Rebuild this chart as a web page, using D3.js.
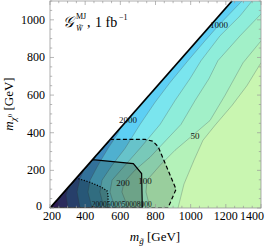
<!DOCTYPE html>
<html>
<head>
<meta charset="utf-8">
<script src="https://cdn.jsdelivr.net/npm/d3@7"></script>
<style>
  body { margin: 0; background: #fff; }
  text { font-family: "Liberation Serif", "DejaVu Serif", serif; }
</style>
</head>
<body>
<svg id="chart" width="266" height="247"></svg>
<script>
// contour levels (events) and the lines, [m_gluino, m_chi]
const levels = [50, 100, 200, 500, 1000, 2000, 5000, 10000, 20000];
const line50 = [[928,0],[962,127],[1019,254],[1070,360],[1138,439],[1235,545],[1320,650],[1400,772]];
const line100 = [[769,0],[746,85],[752,148],[826,227],[911,307],[1025,397],[1110,465],[1195,598],[1298,772],[1400,888]];
const line200 = [[644,0],[609,85],[621,137],[683,201],[769,270],[860,360],[945,444],[1025,571],[1104,687],[1155,783],[1281,915],[1400,1031]];
const line500 = [[570,0],[541,85],[553,148],[627,227],[712,317],[826,444],[911,571],[996,687],[1059,783],[1167,915],[1281,1021],[1349,1100]];
const line1000 = [[507,0],[484,85],[496,148],[553,227],[627,317],[712,444],[797,561],[882,666],[985,783],[1081,888],[1161,973],[1292,1100]];
const line2000 = [[439,0],[416,85],[428,148],[473,227],[530,317],[587,397],[627,487]];
const line5000 = [[371,0],[354,85],[371,159],[416,243],[467,307],[484,338]];
const line10000 = [[302,0],[291,69],[314,137],[359,201],[371,222]];
const line20000 = [[245,0],[245,53],[274,95],[291,116]];
const contourLines = [line50, line100, line200, line500, line1000, line2000, line5000, line10000, line20000];

// kinematic edge
const edge = [[200,0],[1235,1100]];

// excluded regions
const regionDashed = [[200,0],[543,365],[740,365],[785,355],[815,326],[917,100],[871,0]];
const regionSolid = [[200,0],[442,257],[674,236],[721,183],[725,0]];
const regionDotted = [[200,0],[350,159],[427,137],[490,112],[524,92],[530,70],[530,0]];

// contour labels
const labelText = ["50", "100", "200", "1000", "2000"];
const labelPos = [[1025,381],[740,143],[615,132],[1161,973],[644,465]];
const bottomLabelText = ["2000", "5000", "5000", "8000"];
const bottomLabelPos = [[480,19],[565,19],[651,19],[736,19]];

const xTicks = [200, 400, 600, 800, 1000, 1200, 1400];
const yTicks = [0, 200, 400, 600, 800, 1000];

const baseColor = "#c9f6b1";
const bandColors = ["#b4f2b9", "#a2f0c8", "#8eedda", "#7ae5ee", "#5dcff4", "#4aa6e2", "#4a78c8", "#5050b0", "#5a36a0"];

const svg = d3.select("#chart");
const pLeft = 50, pRight = 261, pTop = 1, pBottom = 208;

const x = d3.scaleLinear().domain([200, 1400]).range([pLeft, pRight]);
const y = d3.scaleLinear().domain([0, 1100]).range([pBottom, pTop]);
const color = d3.scaleOrdinal().domain(levels).range(bandColors);

const line = d3.line().x(d => x(d[0])).y(d => y(d[1]));

svg.append("clipPath").attr("id", "tri")
    .append("path")
    .attr("d", line([[200,0],[1235,1100],[1400,1100],[1400,0]]) + "Z");

const g = svg.append("g").attr("clip-path", "url(#tri)");

g.append("rect")
    .attr("x", pLeft).attr("y", pTop)
    .attr("width", pRight - pLeft).attr("height", pBottom - pTop)
    .attr("fill", baseColor);

// filled bands, lowest level first
contourLines.forEach((pts, i) => {
    let poly = pts.slice();
    if (pts[pts.length - 1][0] >= 1400) poly.push([1400, 1100]);
    poly.push([200, 1100], [200, 0]);
    g.append("path")
        .attr("d", line(poly) + "Z")
        .attr("fill", color(levels[i]));
});

contourLines.forEach(pts => {
    g.append("path")
        .attr("d", line(pts))
        .attr("fill", "none")
        .attr("stroke", "#4f6260")
        .attr("stroke-opacity", 0.55)
        .attr("stroke-width", 0.6);
});

// shaded regions
const regions = [
    {pts: regionDashed, op: 0.15, dash: "4,2.5"},
    {pts: regionSolid, op: 0.2, dash: null},
    {pts: regionDotted, op: 0.22, dash: "1.2,1.6"}
];
regions.forEach(r => {
    g.append("path")
        .attr("d", line(r.pts) + "Z")
        .attr("fill", "#000")
        .attr("fill-opacity", r.op);
});
[regions[0], regions[2], regions[1]].forEach(r => {
    g.append("path")
        .attr("d", line(r.pts) + "Z")
        .attr("fill", "none")
        .attr("stroke", "#000")
        .attr("stroke-width", 1.2)
        .attr("stroke-dasharray", r.dash);
});

svg.append("path")
    .attr("d", line(edge))
    .attr("stroke", "#000")
    .attr("stroke-width", 1.8);

// contour labels
svg.selectAll(".clab")
    .data(labelText)
    .join("text")
    .attr("class", "clab")
    .attr("x", (d, i) => x(labelPos[i][0]))
    .attr("y", (d, i) => y(labelPos[i][1]))
    .attr("text-anchor", "middle")
    .attr("dominant-baseline", "central")
    .attr("font-size", 9)
    .attr("fill", "#111")
    .text(d => d);

svg.selectAll(".blab")
    .data(bottomLabelText)
    .join("text")
    .attr("class", "blab")
    .attr("x", (d, i) => x(bottomLabelPos[i][0]))
    .attr("y", (d, i) => y(bottomLabelPos[i][1]))
    .attr("text-anchor", "middle")
    .attr("dominant-baseline", "central")
    .attr("font-size", 7.5)
    .attr("fill", "#111")
    .text(d => d);

// frame + ticks
svg.append("rect")
    .attr("x", pLeft).attr("y", pTop)
    .attr("width", pRight - pLeft).attr("height", pBottom - pTop)
    .attr("fill", "none")
    .attr("stroke", "#9a9a9a")
    .attr("stroke-width", 0.8);

const xMinor = d3.range(200, 1401, 50);
const yMinor = d3.range(0, 1101, 50);
const tg = svg.append("g").attr("stroke", "#9a9a9a").attr("stroke-width", 0.7);
xMinor.forEach(v => {
    const L = v % 200 === 0 ? 4 : 2.2;
    tg.append("line").attr("x1", x(v)).attr("x2", x(v)).attr("y1", pBottom).attr("y2", pBottom - L);
    tg.append("line").attr("x1", x(v)).attr("x2", x(v)).attr("y1", pTop).attr("y2", pTop + L);
});
yMinor.forEach(v => {
    const L = v % 200 === 0 ? 4 : 2.2;
    tg.append("line").attr("y1", y(v)).attr("y2", y(v)).attr("x1", pLeft).attr("x2", pLeft + L);
    tg.append("line").attr("y1", y(v)).attr("y2", y(v)).attr("x1", pRight).attr("x2", pRight - L);
});

svg.selectAll(".xl")
    .data(xTicks)
    .join("text")
    .attr("x", (d, i) => i === xTicks.length - 1 ? 264 : (i === 0 ? x(d) + 2 : x(d)))
    .attr("y", 220)
    .attr("text-anchor", (d, i) => i === xTicks.length - 1 ? "end" : "middle")
    .attr("font-size", 12)
    .text(d => d);

svg.selectAll(".yl")
    .data(yTicks)
    .join("text")
    .attr("x", d => d === 0 ? 42 : 45)
    .attr("y", d => y(d) + (d === 0 ? 1.5 : 4))
    .attr("text-anchor", "end")
    .attr("font-size", 12)
    .text(d => d);

// axis titles
const xt = svg.append("text").attr("x", 155).attr("y", 241)
    .attr("text-anchor", "middle").attr("font-size", 13);
xt.append("tspan").attr("font-style", "italic").text("m");
xt.append("tspan").attr("font-style", "italic").attr("font-size", 9).attr("dy", 3).text("g\u0303");
xt.append("tspan").attr("dy", -3).text(" [GeV]");

const yt = svg.append("text").attr("transform", "translate(13,104) rotate(-90)")
    .attr("text-anchor", "middle").attr("font-size", 13);
yt.append("tspan").attr("font-style", "italic").text("m");
yt.append("tspan").attr("font-style", "italic").attr("font-size", 9).attr("dy", 3).text("\u03c7");
yt.append("tspan").attr("font-size", 7).attr("dy", -4).text("0");
yt.append("tspan").attr("dy", 1).text(" [GeV]");

// in-plot title
svg.append("text").attr("x", 63).attr("y", 27).attr("font-size", 15)
    .attr("font-style", "italic").text("\ud835\udca2");
svg.append("text").attr("x", 76).attr("y", 19).attr("font-size", 8).text("MJ");
svg.append("text").attr("x", 76).attr("y", 31).attr("font-size", 8)
    .attr("font-style", "italic").text("W\u0303");
svg.append("text").attr("x", 87).attr("y", 27).attr("font-size", 14).text(",");
svg.append("text").attr("x", 95).attr("y", 27).attr("font-size", 14).text("1 fb");
svg.append("text").attr("x", 119).attr("y", 20).attr("font-size", 8).text("\u22121");
</script>
</body>
</html>
